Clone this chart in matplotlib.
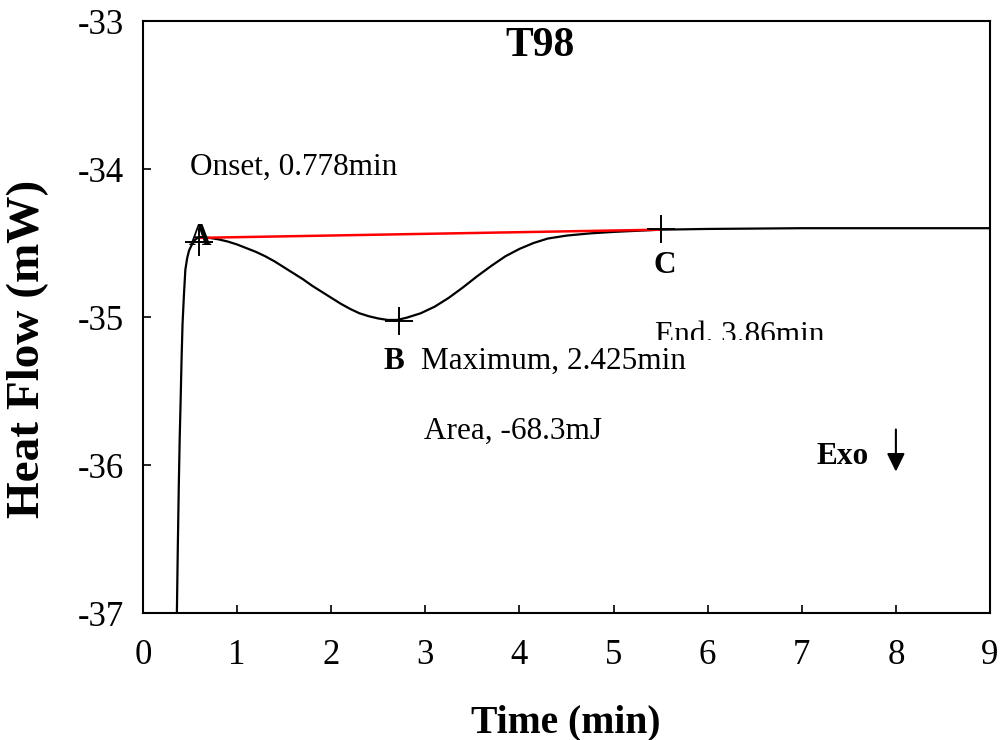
import matplotlib
matplotlib.use("Agg")
import matplotlib.pyplot as plt
from matplotlib.patches import Rectangle

plt.rcParams['font.family'] = ['Liberation Serif', 'DejaVu Serif']
plt.rcParams['axes.unicode_minus'] = False

# DSC heat flow curve
time_min = [0.35, 0.36, 0.37, 0.38, 0.39, 0.40, 0.41, 0.42, 0.435, 0.45, 0.47, 0.49, 0.52, 0.55, 0.58,
            0.61, 0.7, 0.8, 0.9, 1.0, 1.1, 1.2, 1.3, 1.4, 1.5, 1.6, 1.7, 1.8, 1.9, 2.0,
            2.1, 2.2, 2.3, 2.4, 2.5, 2.6, 2.7, 2.8, 2.95, 3.1, 3.25, 3.4, 3.55, 3.7, 3.85,
            4.0, 4.15, 4.3, 4.5, 4.75, 5.0, 5.5, 6.0, 7.0, 8.0, 9.0]
heat_flow = [-37.3, -37.0, -36.55, -36.15, -35.82, -35.56, -35.28, -35.05, -34.85, -34.68, -34.60, -34.55, -34.51, -34.48, -34.465,
             -34.46, -34.465, -34.475, -34.49, -34.51, -34.535, -34.56, -34.59, -34.625, -34.665, -34.705, -34.745, -34.79, -34.83, -34.87,
             -34.91, -34.945, -34.975, -34.995, -35.01, -35.02, -35.02, -35.005, -34.975, -34.93, -34.87, -34.80, -34.725, -34.655, -34.59,
             -34.54, -34.50, -34.47, -34.45, -34.435, -34.425, -34.41, -34.405, -34.40, -34.40, -34.40]

# baseline A -> C and marked points
base_x = [0.61, 5.5]
base_y = [-34.465, -34.41]
mark_x = [0.6, 2.72, 5.5]
mark_y = [-34.49, -35.03, -34.405]

x_ticks = [0, 1, 2, 3, 4, 5, 6, 7, 8, 9]
y_ticks = [-37, -36, -35, -34, -33]

fig = plt.figure(figsize=(10.01, 7.40), dpi=100)
ax = fig.add_axes([143 / 1001, 1 - 613 / 740, 847 / 1001, 592 / 740])

ax.plot(time_min, heat_flow, color='black', lw=1.6)
ax.plot(base_x, base_y, color='red', lw=1.8)
ax.plot(mark_x, mark_y, ls='none', marker='+', ms=20, mew=1.4, color='black')

ax.set_xlim(0, 9)
ax.set_ylim(-37, -33)
ax.set_xticks(x_ticks)
ax.set_yticks(y_ticks)
ax.tick_params(direction='in', length=6, width=1.2, labelsize=25)
ax.tick_params(axis='x', pad=19)
ax.tick_params(axis='y', pad=14)
for s in ax.spines.values():
    s.set_linewidth(1.5)

ax.text(4.22, -33.166, 'T98', fontsize=30, fontweight='bold', ha='center', va='center')
ax.text(0.50, -33.99, 'Onset, 0.778min', fontsize=22.5, ha='left', va='center')
ax.text(0.61, -34.46, 'A', fontsize=22.5, fontweight='bold', ha='center', va='center')
ax.text(2.67, -35.30, 'B', fontsize=22.5, fontweight='bold', ha='center', va='center')
ax.text(2.95, -35.30, 'Maximum, 2.425min', fontsize=22.5, ha='left', va='center')
ax.text(2.99, -35.775, 'Area, -68.3mJ', fontsize=22.5, ha='left', va='center')
ax.text(5.54, -34.65, 'C', fontsize=22.5, fontweight='bold', ha='center', va='center')

# the End label is cut off at the bottom in the original
end_txt = ax.text(5.44, -35.176, 'End. 3.86min', fontsize=22.5, ha='left', va='baseline', clip_on=True)
end_txt.set_clip_path(Rectangle((5.0, -35.155), 4.0, 2.2, transform=ax.transData))

ax.text(7.43, -35.94, 'Exo', fontsize=22.5, fontweight='bold', ha='center', va='center')
ax.annotate('', xy=(8.0, -36.045), xytext=(8.0, -35.76),
            arrowprops=dict(arrowstyle='-|>,head_length=0.55,head_width=0.27',
                            color='black', lw=1.5, mutation_scale=20, shrinkA=0, shrinkB=0))

fig.text(28 / 1001, 1 - 349 / 740, 'Heat Flow (mW)', fontsize=34, fontweight='bold',
         rotation=90, ha='center', va='center')
fig.text(566 / 1001, 8 / 740, 'Time (min)', fontsize=28.5, fontweight='bold',
         ha='center', va='baseline')

fig.savefig('out.png', dpi=100)
